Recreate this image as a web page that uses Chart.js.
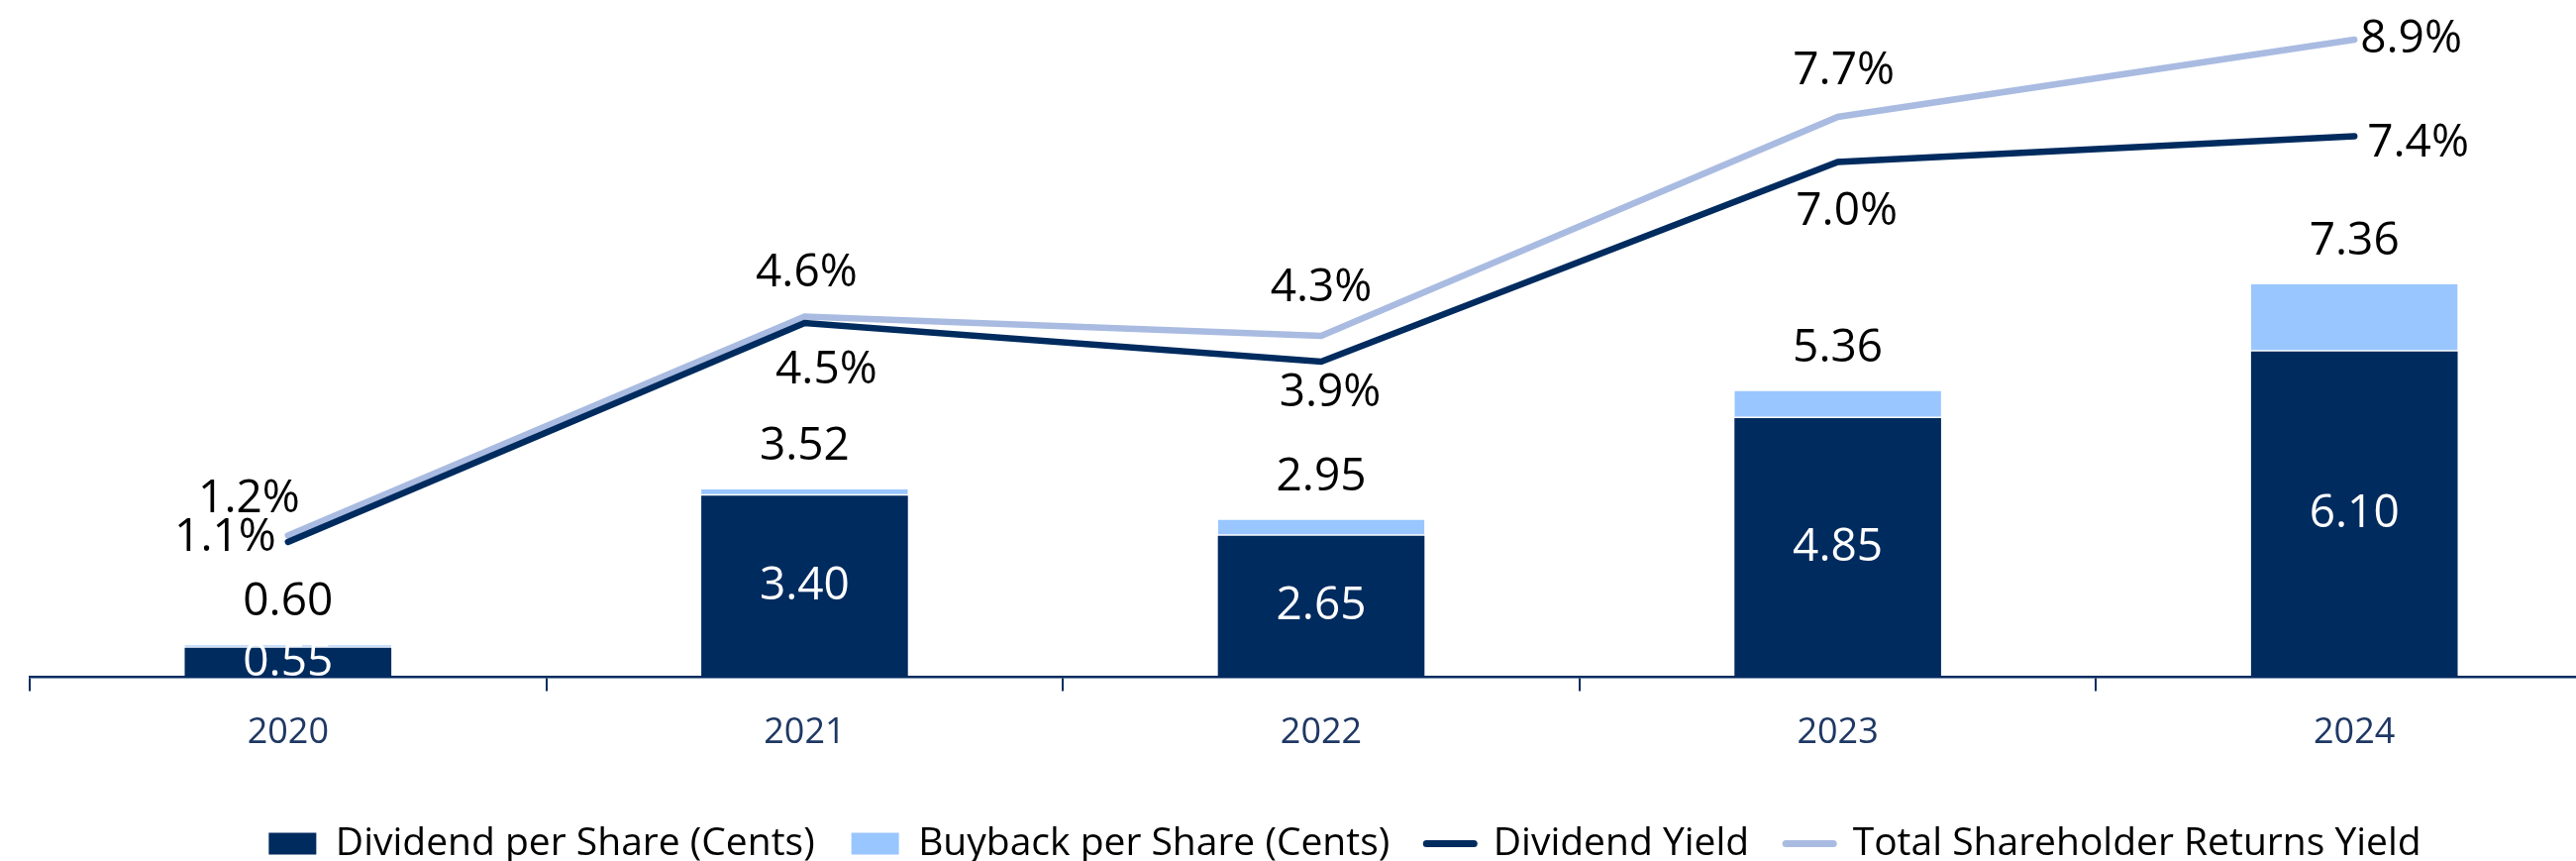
<!DOCTYPE html>
<html>
<head>
<meta charset="utf-8">
<script src="https://cdn.jsdelivr.net/npm/chart.js@4/dist/chart.umd.min.js"></script>
<style>
html, body { margin: 0; padding: 0; background: #ffffff; overflow: hidden; width: 2601px; height: 869px; }
#wrap { position: absolute; left: 0; top: 0; width: 2640px; height: 869px; }
</style>
</head>
<body>
<div id="wrap"><canvas id="chart"></canvas></div>
<script>
// ---- data ----
const years = ['2020', '2021', '2022', '2023', '2024'];
const dividendPerShare = [0.55, 3.40, 2.65, 4.85, 6.10];
const buybackPerShare = [0.05, 0.12, 0.30, 0.51, 1.26];
const dividendYield = [1.1, 4.5, 3.9, 7.0, 7.4];
const tsrYield = [1.2, 4.6, 4.3, 7.7, 8.9];

// ---- styling ----
const NAVY = '#002B5F';
const LIGHT_BLUE = '#99C6FF';
const LAVENDER = '#A9BBE1';
const FONT = '"Open Sans", "DejaVu Sans", sans-serif';

// label placement relative to the point computed by the library
const lineLabelStyle = {
  2: [ {align: 'right', dx: -12, dy: -4}, {align: 'center', dx: 22, dy: 48}, {align: 'center', dx: 9, dy: 32},
       {align: 'center', dx: 9, dy: 50}, {align: 'left', dx: 13, dy: 7} ],
  3: [ {align: 'right', dx: 12, dy: -37}, {align: 'center', dx: 2, dy: -44}, {align: 'center', dx: 0, dy: -48},
       {align: 'center', dx: 6, dy: -46}, {align: 'left', dx: 6, dy: 0} ]
};

const valueLabels = {
  id: 'valueLabels',
  afterDatasetsDraw(chart) {
    const ctx = chart.ctx;
    const area = chart.chartArea;
    ctx.save();
    ctx.font = '46px ' + FONT;
    ctx.textBaseline = 'middle';
    ctx.textAlign = 'center';

    const mDiv = chart.getDatasetMeta(0);
    const mBuy = chart.getDatasetMeta(1);

    // dividend values inside the dark segment (clipped to plot area)
    ctx.save();
    ctx.beginPath();
    ctx.rect(area.left, 0, area.right - area.left, area.bottom);
    ctx.clip();
    ctx.fillStyle = '#FFFFFF';
    mDiv.data.forEach((bar, i) => {
      const p = bar.getProps(['x', 'y', 'base'], true);
      ctx.fillText(dividendPerShare[i].toFixed(2), p.x, (p.y + p.base) / 2);
    });
    ctx.restore();

    // totals above stacks
    ctx.fillStyle = '#000000';
    mBuy.data.forEach((bar, i) => {
      const p = bar.getProps(['x', 'y'], true);
      ctx.fillText((dividendPerShare[i] + buybackPerShare[i]).toFixed(2), p.x, p.y - 43);
    });

    // yield labels
    [2, 3].forEach(di => {
      const meta = chart.getDatasetMeta(di);
      const vals = chart.data.datasets[di].data;
      meta.data.forEach((pt, i) => {
        const s = lineLabelStyle[di][i];
        ctx.textAlign = s.align;
        ctx.fillText(vals[i].toFixed(1) + '%', pt.x + s.dx, pt.y + s.dy);
      });
    });
    ctx.restore();
  }
};

const legendShift = {
  id: 'legendShift',
  afterLayout(chart) {
    const lg = chart.legend;
    if (lg) { lg.left += 24; lg.right += 24; lg.top += 12; lg.bottom += 12; }
  }
};

new Chart(document.getElementById('chart'), {
  type: 'bar',
  data: {
    labels: years,
    datasets: [
      { label: 'Dividend per Share (Cents)', data: dividendPerShare, backgroundColor: NAVY,
        borderColor: '#FFFFFF', borderWidth: 0, yAxisID: 'y', stack: 's', order: 2,
        categoryPercentage: 0.4, barPercentage: 1.0 },
      { label: 'Buyback per Share (Cents)', data: buybackPerShare, backgroundColor: LIGHT_BLUE,
        borderColor: '#FFFFFF', borderWidth: {top: 0, left: 0, right: 0, bottom: 1.5}, borderSkipped: false,
        yAxisID: 'y', stack: 's', order: 2, categoryPercentage: 0.4, barPercentage: 1.0 },
      { type: 'line', label: 'Dividend Yield', data: dividendYield, borderColor: NAVY, backgroundColor: NAVY,
        borderWidth: 6.5, pointRadius: 0, tension: 0, yAxisID: 'y2', order: 1,
        borderCapStyle: 'round', borderJoinStyle: 'miter' },
      { type: 'line', label: 'Total Shareholder Returns Yield', data: tsrYield, borderColor: LAVENDER, backgroundColor: LAVENDER,
        borderWidth: 6.5, pointRadius: 0, tension: 0, yAxisID: 'y2', order: 1,
        borderCapStyle: 'round', borderJoinStyle: 'miter' }
    ]
  },
  options: {
    responsive: true,
    maintainAspectRatio: false,
    animation: false,
    devicePixelRatio: 1,
    layout: { padding: { left: 30, right: 2, top: 0, bottom: 0 } },
    scales: {
      x: {
        stacked: true,
        offset: true,
        grid: { display: true, drawOnChartArea: false, drawTicks: true, tickLength: 14, color: NAVY, lineWidth: 2, offset: true },
        border: { display: true, color: NAVY, width: 2.5 },
        ticks: { color: '#1F3864', font: { family: FONT, size: 36 }, padding: 21 },
        afterFit(scale) { scale.height = 99.5; }
      },
      y: { display: false, stacked: true, min: 0, max: 12.68 },
      y2: { display: false, position: 'right', min: -1.0, max: 9.515 }
    },
    plugins: {
      tooltip: { enabled: false },
      legend: {
        position: 'bottom',
        labels: {
          usePointStyle: true,
          pointStyleWidth: 48,
          boxHeight: 22,
          padding: 37,
          color: '#000000',
          font: { family: FONT, size: 39 },
          sort: (a, b) => a.datasetIndex - b.datasetIndex,
          generateLabels(chart) {
            const items = Chart.defaults.plugins.legend.labels.generateLabels(chart);
            items.forEach(it => {
              const ds = chart.data.datasets[it.datasetIndex];
              if (ds.type === 'line') {
                it.pointStyle = 'line';
                it.lineWidth = 7;
                it.lineCap = 'round';
                it.strokeStyle = ds.borderColor;
              } else {
                it.pointStyle = 'rect';
                it.lineWidth = 0;
                it.fillStyle = ds.backgroundColor;
              }
            });
            return items;
          }
        }
      }
    }
  },
  plugins: [valueLabels, legendShift]
});
</script>
</body>
</html>
